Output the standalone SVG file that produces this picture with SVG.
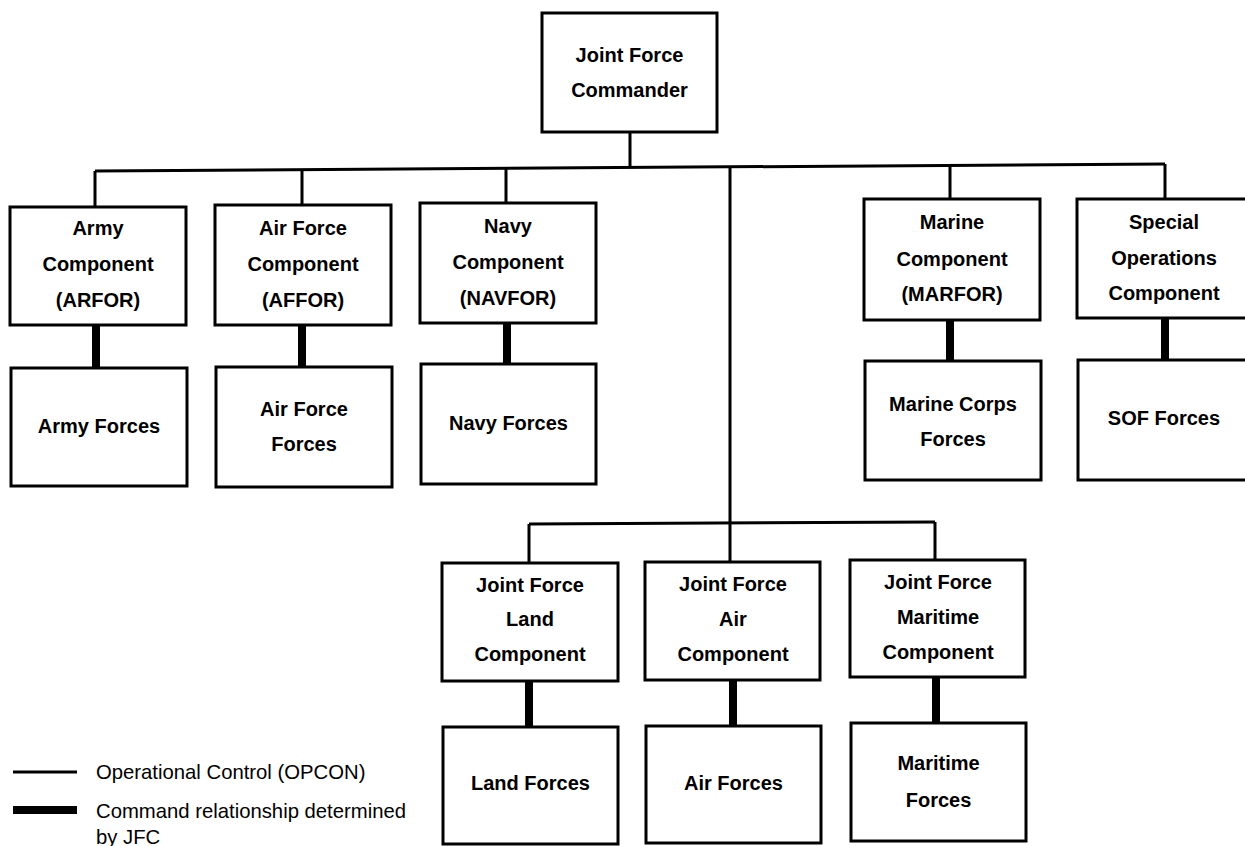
<svg xmlns="http://www.w3.org/2000/svg" width="1245" height="846" viewBox="0 0 1245 846">
<style>
.box{fill:#fff;stroke:#000;stroke-width:3}
.t{font-family:"Liberation Sans",Arial,sans-serif;font-weight:bold;font-size:20px;text-anchor:middle;fill:#000}
.lg{font-family:"Liberation Sans",Arial,sans-serif;font-size:20.3px;fill:#000}
.thin{fill:none;stroke:#000;stroke-width:3}
.thick{fill:none;stroke:#000;stroke-width:8}
</style>
<rect width="1245" height="846" fill="#fff"/>
<g id="connectors">
<path class="thin" d="M630,132 V168"/>
<path class="thin" d="M95,171 L1165,164"/>
<path class="thin" d="M95,171 V206"/>
<path class="thin" d="M302,170 V205"/>
<path class="thin" d="M506,168.5 V203"/>
<path class="thin" d="M730,167 V562"/>
<path class="thin" d="M950,165.5 V199"/>
<path class="thin" d="M1165,164 V199"/>
<path class="thin" d="M529,524 L935,522"/>
<path class="thin" d="M529,524 V563"/>
<path class="thin" d="M935,522 V560"/>
<path class="thick" d="M96,325 V368"/>
<path class="thick" d="M302,325 V367"/>
<path class="thick" d="M507,323 V364"/>
<path class="thick" d="M950,320 V361"/>
<path class="thick" d="M1165,318 V360"/>
<path class="thick" d="M529,681 V727"/>
<path class="thick" d="M733,680 V726"/>
<path class="thick" d="M936,677 V723"/>
</g>
<g id="jfc"><rect class="box" x="542" y="13" width="175" height="119"/>
<text class="t" x="629.5" y="62">Joint Force</text><text class="t" x="629.5" y="97">Commander</text></g>
<g id="army"><rect class="box" x="10" y="207" width="176" height="118"/>
<text class="t" x="98" y="235">Army</text><text class="t" x="98" y="271">Component</text><text class="t" x="98" y="307">(ARFOR)</text></g>
<g id="army-forces"><rect class="box" x="11" y="368" width="176" height="118"/>
<text class="t" x="99" y="433">Army Forces</text></g>
<g id="airforce"><rect class="box" x="215" y="205" width="176" height="120"/>
<text class="t" x="303" y="235">Air Force</text><text class="t" x="303" y="271">Component</text><text class="t" x="303" y="307">(AFFOR)</text></g>
<g id="airforce-forces"><rect class="box" x="216" y="367" width="176" height="120"/>
<text class="t" x="304" y="416">Air Force</text><text class="t" x="304" y="451">Forces</text></g>
<g id="navy"><rect class="box" x="420" y="203" width="176" height="120"/>
<text class="t" x="508" y="233">Navy</text><text class="t" x="508" y="269">Component</text><text class="t" x="508" y="305">(NAVFOR)</text></g>
<g id="navy-forces"><rect class="box" x="421" y="364" width="175" height="120"/>
<text class="t" x="508.5" y="430">Navy Forces</text></g>
<g id="marine"><rect class="box" x="864" y="199" width="176" height="121"/>
<text class="t" x="952" y="229">Marine</text><text class="t" x="952" y="266">Component</text><text class="t" x="952" y="301">(MARFOR)</text></g>
<g id="marine-forces"><rect class="box" x="865" y="361" width="176" height="119"/>
<text class="t" x="953" y="411">Marine Corps</text><text class="t" x="953" y="446">Forces</text></g>
<g id="sof"><rect class="box" x="1077" y="199" width="175" height="119"/>
<text class="t" x="1164" y="229">Special</text><text class="t" x="1164" y="265">Operations</text><text class="t" x="1164" y="300">Component</text></g>
<g id="sof-forces"><rect class="box" x="1078" y="360" width="174" height="120"/>
<text class="t" x="1164" y="425">SOF Forces</text></g>
<g id="jflc"><rect class="box" x="442" y="563" width="176" height="118"/>
<text class="t" x="530" y="592">Joint Force</text><text class="t" x="530" y="626">Land</text><text class="t" x="530" y="661">Component</text></g>
<g id="land-forces"><rect class="box" x="443" y="727" width="175" height="117"/>
<text class="t" x="530.5" y="790">Land Forces</text></g>
<g id="jfac"><rect class="box" x="645" y="562" width="175" height="118"/>
<text class="t" x="733" y="591">Joint Force</text><text class="t" x="733" y="626">Air</text><text class="t" x="733" y="661">Component</text></g>
<g id="air-forces"><rect class="box" x="646" y="726" width="175" height="117"/>
<text class="t" x="733.5" y="790">Air Forces</text></g>
<g id="jfmcc"><rect class="box" x="850" y="560" width="175" height="117"/>
<text class="t" x="938" y="589">Joint Force</text><text class="t" x="938" y="624">Maritime</text><text class="t" x="938" y="659">Component</text></g>
<g id="maritime-forces"><rect class="box" x="851" y="723" width="175" height="118"/>
<text class="t" x="938.5" y="770">Maritime</text><text class="t" x="938.5" y="807">Forces</text></g>
<g id="legend">
<path class="thin" d="M13,772 H77"/>
<text class="lg" x="96" y="779">Operational Control (OPCON)</text>
<path class="thick" d="M13,810 H77"/>
<text class="lg" x="96" y="818">Command relationship determined</text>
<text class="lg" x="96" y="844">by JFC</text>
</g>
</svg>
